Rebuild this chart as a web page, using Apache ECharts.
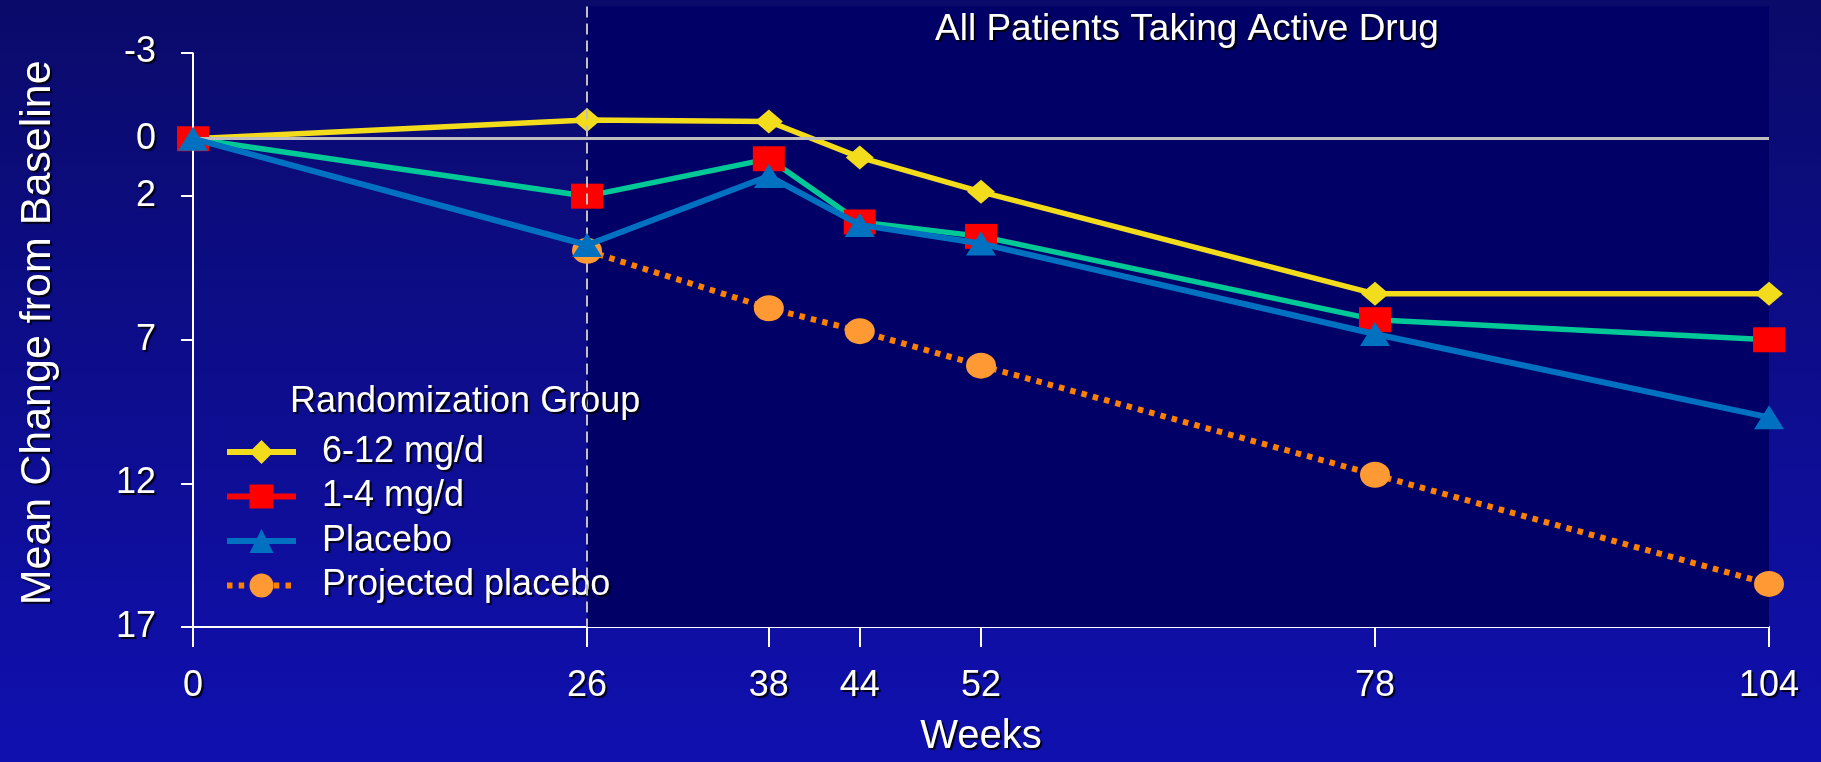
<!DOCTYPE html>
<html>
<head>
<meta charset="utf-8">
<script src="https://cdn.jsdelivr.net/npm/echarts@6/dist/echarts.min.js"></script>
<style>
html,body{margin:0;padding:0;width:1821px;height:762px;overflow:hidden;background:#0c0c8c;}
#chart{width:1821px;height:762px;}
</style>
</head>
<body>
<div id="chart"></div>
<script>
// ---- data ----
const weeks = [0, 26, 38, 44, 52, 78, 104];
const yTicks = [-3, 0, 2, 7, 12, 17];
const highDose = [0, -0.65, -0.6, 0.65, 1.85, 5.4, 5.4];      // 6-12 mg/d
const lowDose = [0, 2.0, 0.7, 2.9, 3.4, 6.3, 7.0];            // 1-4 mg/d
const placebo = [0, 3.7, 1.3, 3.0, 3.65, 6.8, 9.7];           // Placebo
const projected = [null, 3.9, 5.9, 6.7, 7.9, 11.7, 15.5];     // Projected placebo
const activeStart = 26;
const seriesNames = ['6-12 mg/d', '1-4 mg/d', 'Placebo', 'Projected placebo'];

function pairs(arr) {
  const out = [];
  weeks.forEach((w, i) => { if (arr[i] !== null) out.push([w, arr[i]]); });
  return out;
}

const FONT = '"Liberation Sans", Arial, sans-serif';
const shadow = { textShadowColor: 'rgba(0,0,0,0.85)', textShadowOffsetX: 2, textShadowOffsetY: 2, textShadowBlur: 1 };

const chart = echarts.init(document.getElementById('chart'), null, { renderer: 'canvas' });
const yMin = -4.6, yMax = 17;

const option = {
  backgroundColor: {
    type: 'linear', x: 0, y: 0, x2: 0, y2: 1,
    colorStops: [{ offset: 0, color: '#0a0a6a' }, { offset: 1, color: '#1010b0' }]
  },
  animation: false,
  title: [
    { text: 'All Patients Taking Active Drug', left: 935, top: 11, padding: 0,
      textStyle: Object.assign({ color: '#ffffff', fontSize: 37, fontWeight: 'normal', fontFamily: FONT }, shadow) },
    { text: 'Randomization Group', left: 290, top: 384, padding: 0,
      textStyle: Object.assign({ color: '#ffffff', fontSize: 36, fontWeight: 'normal', fontFamily: FONT }, shadow) }
  ],
  legend: {
    orient: 'vertical', left: 224, top: 434, padding: 0,
    itemWidth: 69, itemHeight: 30, itemGap: 8.5,
    data: [
      { name: seriesNames[0], lineStyle: { width: 6 } },
      { name: seriesNames[1], lineStyle: { color: '#ff0000', width: 6 } },
      { name: seriesNames[2], lineStyle: { width: 6 } },
      { name: seriesNames[3], lineStyle: { width: 6 } }
    ],
    textStyle: Object.assign({ color: '#ffffff', fontSize: 36, fontFamily: FONT, padding: [0, 0, 0, 21] }, shadow)
  },
  grid: { left: 193, right: 52, top: 6.6, bottom: 133, containLabel: false },
  xAxis: {
    type: 'value', min: 0, max: 104,
    name: 'Weeks', nameLocation: 'middle', nameGap: 90,
    nameTextStyle: Object.assign({ color: '#ffffff', fontSize: 40, fontFamily: FONT }, shadow),
    axisLine: { show: true, onZero: false, lineStyle: { color: '#ffffff', width: 2 } },
    axisTick: { show: true, customValues: weeks, length: 20, lineStyle: { color: '#ffffff', width: 2 } },
    axisLabel: Object.assign({ customValues: weeks, color: '#ffffff', fontSize: 36, fontFamily: FONT, margin: 41 }, shadow),
    splitLine: { show: false }
  },
  yAxis: {
    type: 'value', inverse: true, min: yMin, max: yMax,
    name: 'Mean Change from Baseline', nameLocation: 'middle', nameGap: 133,
    nameTextStyle: Object.assign({ color: '#ffffff', fontSize: 43, fontFamily: FONT, padding: [0, 32, 0, 0] }, shadow),
    axisLine: { show: false },
    axisTick: { show: true, customValues: yTicks, length: 12, lineStyle: { color: '#ffffff', width: 2 } },
    axisLabel: Object.assign({ customValues: yTicks, color: '#ffffff', fontSize: 36, fontFamily: FONT, margin: 37 }, shadow),
    splitLine: { show: false }
  },
  series: [
    {
      // decorations: active-drug region, zero line, week-26 divider, y axis line
      type: 'line', data: [], z: 1, silent: true,
      markArea: {
        silent: true,
        itemStyle: { color: '#000066' },
        data: [[{ coord: [activeStart, yMin] }, { coord: [104, yMax] }]]
      },
      markLine: {
        silent: true, symbol: 'none', label: { show: false },
        data: [
          [{ coord: [0, 0], lineStyle: { color: '#bebebe', width: 3, type: 'solid' } }, { coord: [104, 0] }],
          [{ coord: [activeStart, yMin], lineStyle: { color: '#c0c0c0', width: 2, type: [11, 6] } }, { coord: [activeStart, yMax] }],
          [{ coord: [0, -3], lineStyle: { color: '#ffffff', width: 2, type: 'solid' } }, { coord: [0, yMax] }]
        ]
      }
    },
    {
      name: seriesNames[0], type: 'line', z: 3, data: pairs(highDose),
      symbol: 'diamond', symbolSize: [28, 24],
      lineStyle: { color: '#f2dc1c', width: 5.5 },
      itemStyle: { color: '#f2dc1c' }
    },
    {
      name: seriesNames[1], type: 'line', z: 4, data: pairs(lowDose),
      symbol: 'rect', symbolSize: [32, 25],
      lineStyle: { color: '#00c896', width: 5.5 },
      itemStyle: { color: '#ff0000' }
    },
    {
      name: seriesNames[3], type: 'line', z: 5, data: pairs(projected),
      symbol: 'circle', symbolSize: [30, 26],
      lineStyle: { color: '#ff8000', width: 6, type: [5.5, 6.2] },
      itemStyle: { color: '#ff9933' }
    },
    {
      name: seriesNames[2], type: 'line', z: 6, data: pairs(placebo),
      symbol: 'triangle', symbolSize: [30, 24],
      lineStyle: { color: '#0070c0', width: 6 },
      itemStyle: { color: '#0070c0' }
    }
  ]
};
chart.setOption(option);
</script>
</body>
</html>
